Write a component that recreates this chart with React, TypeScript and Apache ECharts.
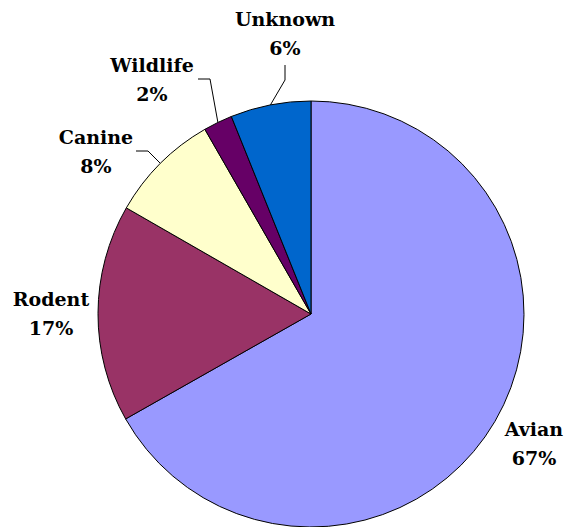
import React, { useEffect, useRef } from "react";
import * as echarts from "echarts";

const categories = ["Avian", "Rodent", "Canine", "Wildlife", "Unknown"];
const values = [66.8, 16.5, 8.4, 2.2, 6.1];
const colors = ["#9999FF", "#993366", "#FFFFCC", "#660066", "#0066CC"];

// layout only (label anchors in pixels)
const CX = 311;
const CY = 314;
const R = 213;
const FONT = "DejaVu Serif";
const labelPos = [
  { x: 534, y: 443 },
  { x: 51, y: 313 },
  { x: 96, y: 151 },
  { x: 152, y: 79 },
  { x: 285, y: 33 },
];
const leaderBends: (number[][] | null)[] = [
  null,
  null,
  [[148, 151], [136, 151]],
  [[210, 79], [198, 79]],
  [[285, 80], [285, 65]],
];

export default function App() {
  const ref = useRef<HTMLDivElement>(null);
  useEffect(() => {
    document.body.style.margin = "0";
    const chart = echarts.init(ref.current!, null, { renderer: "svg" });
    const total = values.reduce((a, b) => a + b, 0);
    const anchor = (i: number) => {
      let cum = 0;
      for (let k = 0; k < i; k++) cum += values[k];
      const f = (cum + values[i] / 2) / total;
      const a = 2 * Math.PI * f;
      return [CX + R * Math.sin(a), CY - R * Math.cos(a)];
    };
    chart.setOption({
      animation: false,
      backgroundColor: "#ffffff",
      series: [
        {
          type: "pie",
          center: [CX, CY],
          radius: R,
          startAngle: 90,
          clockwise: true,
          avoidLabelOverlap: false,
          itemStyle: { borderColor: "#000000", borderWidth: 1 },
          emphasis: { disabled: true },
          label: { show: false },
          labelLine: { show: false },
          data: categories.map((name, i) => ({
            name,
            value: values[i],
            itemStyle: { color: colors[i] },
          })),
        },
      ],
    });
    const elements: any[] = [];
    categories.forEach((name, i) => {
      const pct = Math.round((values[i] / total) * 100);
      elements.push({
        type: "text",
        x: labelPos[i].x,
        y: labelPos[i].y,
        silent: true,
        style: {
          text: `${name}\n${pct}%`,
          fontFamily: FONT,
          fontWeight: "bold",
          fontSize: 19,
          lineHeight: 29,
          fill: "#000000",
          align: "center",
          verticalAlign: "middle",
        },
      });
      const b = leaderBends[i];
      if (b) {
        elements.push({
          type: "polyline",
          silent: true,
          shape: { points: [anchor(i), b[0], b[1]] },
          style: { stroke: "#000000", lineWidth: 1, fill: "none" },
        });
      }
    });
    chart.setOption({ graphic: { elements } });
    return () => chart.dispose();
  }, []);
  return <div ref={ref} style={{ width: 573, height: 527 }} />;
}
